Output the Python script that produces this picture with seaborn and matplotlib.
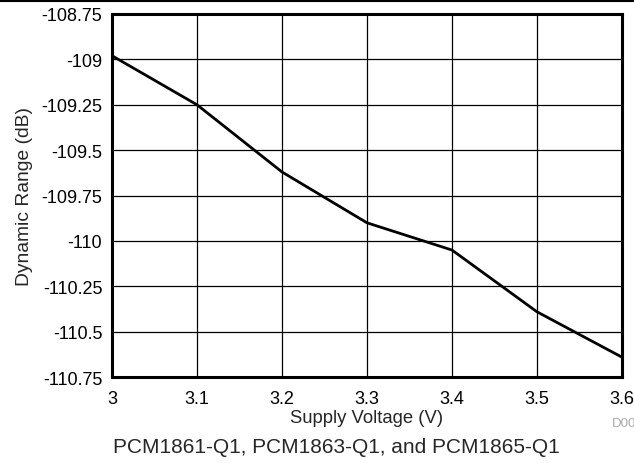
import numpy as np
import pandas as pd
import seaborn as sns
import matplotlib.pyplot as plt
from matplotlib.lines import Line2D
from matplotlib.ticker import FuncFormatter

voltage = [3.0, 3.1, 3.2, 3.3, 3.4, 3.5, 3.6]
dyn_range = [-108.98, -109.25, -109.62, -109.90, -110.05, -110.39, -110.64]

x_ticks = [3.0, 3.1, 3.2, 3.3, 3.4, 3.5, 3.6]
y_ticks = [-110.75, -110.5, -110.25, -110.0, -109.75, -109.5, -109.25, -109.0, -108.75]

df = pd.DataFrame({"voltage": voltage, "dr": dyn_range})

sns.set_style("white")
plt.rcParams['font.family'] = ['Liberation Sans', 'DejaVu Sans']

fig = plt.figure(figsize=(6.34, 4.64), dpi=100)
ax = fig.add_axes([0.1767, 0.185, 0.8043, 0.7827])

sns.lineplot(data=df, x="voltage", y="dr", color="black", linewidth=2, ax=ax, zorder=3)

ax.set_xlim(3.0, 3.6)
ax.set_ylim(-110.75, -108.75)
ax.set_xticks(x_ticks)
ax.set_yticks(y_ticks)
ax.xaxis.set_major_formatter(FuncFormatter(lambda v, p: f"{v:g}"))
ax.yaxis.set_major_formatter(FuncFormatter(lambda v, p: f"{v:g}"))
ax.grid(True, color="black", linewidth=0.9)
for s in ax.spines.values():
    s.set_color("black")
    s.set_linewidth(2.2)
ax.tick_params(axis="y", length=0, labelsize=13, pad=7, colors="black")
ax.tick_params(axis="x", length=0, labelsize=13, pad=9, colors="black")
ax.set_xlabel("Supply Voltage (V)", fontsize=13.3, labelpad=2)
ax.set_ylabel("Dynamic Range (dB)", fontsize=13.9, labelpad=6)

fig.add_artist(Line2D([0, 1], [0.996, 0.996], color="black", linewidth=1.5))
fig.text(0.965, 0.086, "D00", fontsize=9.5, color="#aaaaaa", ha="left", va="center")
fig.text(0.53, 0.036, "PCM1861-Q1, PCM1863-Q1, and PCM1865-Q1", fontsize=15, ha="center", va="center")

fig.savefig("out.png", dpi=100)
